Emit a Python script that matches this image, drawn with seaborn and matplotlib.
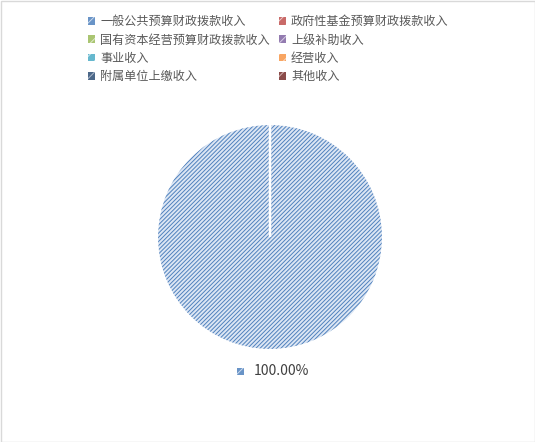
import matplotlib
matplotlib.use('Agg')
import matplotlib.pyplot as plt
from matplotlib.patches import Patch, Rectangle
import seaborn as sns

# 收入类别及数值
categories = ['一般公共预算财政拨款收入', '政府性基金预算财政拨款收入',
              '国有资本经营预算财政拨款收入', '上级补助收入',
              '事业收入', '经营收入', '附属单位上缴收入', '其他收入']
values = [100.0, 0, 0, 0, 0, 0, 0, 0]

# Excel 默认配色
colors = ['#4F81BD', '#C0504D', '#9BBB59', '#8064A2',
          '#4BACC6', '#F79646', '#2C4D75', '#772C2A']
light = ['#dce6f4', '#f3dad9', '#e8f0da', '#e3dcec',
         '#d8eff6', '#fde3cf', '#c0cad9', '#e0c4c3']

HATCH = '////////'

sns.set_theme(style='white')
plt.rcParams['font.family'] = ['Noto Sans CJK SC', 'DejaVu Sans']
plt.rcParams['hatch.linewidth'] = 0.7

fig = plt.figure(figsize=(5.35, 4.42), dpi=100)
W, H = 535, 442
cx, cy, r = 270, 237, 113
ax = fig.add_axes([(cx - r) / W, (H - cy - r) / H, 2 * r / W, 2 * r / H])

# 填充（带斜线）
wedges, texts, autotexts = ax.pie(
    values, colors=light, startangle=90, counterclock=False,
    autopct=lambda p: f'{p:.2f}%' if p > 0 else '', pctdistance=1.19,
    wedgeprops=dict(linewidth=0, hatch=HATCH),
    textprops=dict(fontsize=10, color='#404040'))
for w, c in zip(wedges, colors):
    w.set_edgecolor(c)
    w.set_linewidth(0)

# 白色分隔线
ax.pie(values, colors=['none'] * len(values), startangle=90, counterclock=False,
       wedgeprops=dict(linewidth=1.5, edgecolor='white', fill=False))
ax.set_xlim(-1, 1)
ax.set_ylim(-1, 1)
ax.set_aspect('equal')
ax.axis('off')

# 标签前的小色块
for t, v, c, lc in zip(autotexts, values, colors, light):
    if v > 0:
        t.set_position((0.1, -1.19))
        ax.add_patch(Rectangle((-0.29, -1.22), 0.062, 0.062, facecolor=c,
                               edgecolor=lc, hatch='///', linewidth=0,
                               alpha=0.85, clip_on=False))

# 图例按行排列（两列）
handles = [Patch(facecolor=c, edgecolor=lc, hatch='///', linewidth=0, alpha=0.85)
           for c, lc in zip(colors, light)]
order = [0, 2, 4, 6, 1, 3, 5, 7]
fig.legend([handles[i] for i in order], [categories[i] for i in order],
           ncol=2, loc='upper left',
           bbox_to_anchor=(82 / W, 1 - 9 / H), frameon=False,
           fontsize=8.7, labelcolor='#595959', handlelength=0.6,
           handleheight=0.6, handletextpad=0.4, columnspacing=0.75,
           labelspacing=0.45, borderpad=0)

fig.patches.append(Rectangle((0.5 / W, 0.5 / H), 1 - 1 / W, 1 - 1 / H,
                             transform=fig.transFigure, fill=False,
                             edgecolor='#d9d9d9', linewidth=1))

fig.savefig('out.png', dpi=100)
